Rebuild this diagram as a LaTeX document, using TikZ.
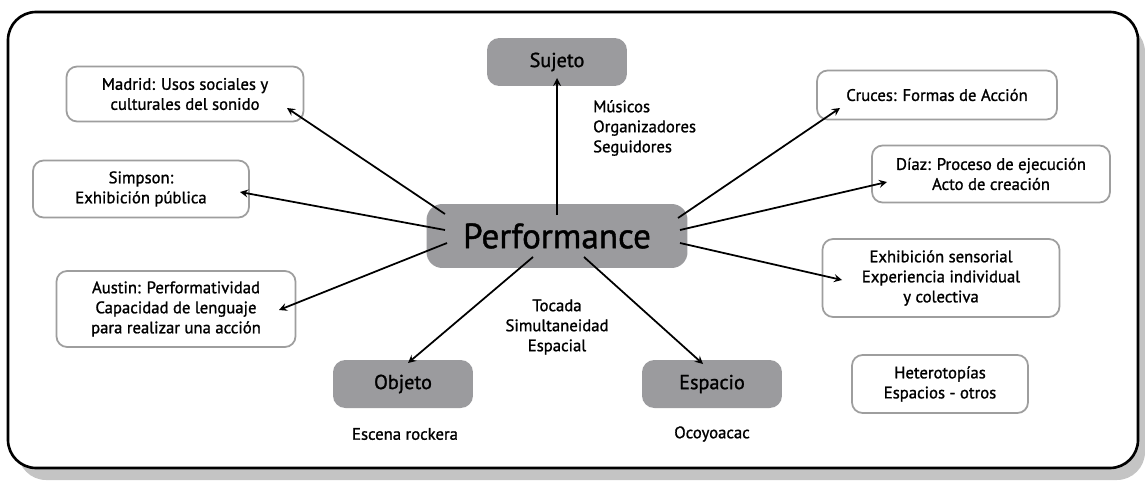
\documentclass[tikz,border=0pt]{standalone}
\usepackage{fontspec}
\setmainfont{PT Sans}[FakeBold=1.2]
\usepackage{tikz}
\usetikzlibrary{arrows,calc}
\definecolor{hubgray}{RGB}{155,155,158}
\definecolor{rimgray}{RGB}{158,158,158}
\definecolor{shadegray}{RGB}{196,196,196}

\begin{document}
\begin{tikzpicture}[x=0.02cm, y=-0.02cm, line join=round,
    hub/.style={fill=hubgray, rounded corners=7pt, minimum width=2.8cm, minimum height=0.96cm,
      font=\fontsize{11.5}{13}\selectfont},
    idea/.style={draw=rimgray, line width=1pt, fill=white, rounded corners=6pt, align=center,
      font=\fontsize{9.5}{11.4}\selectfont},
    note/.style={align=center, font=\fontsize{9.5}{11.4}\selectfont},
    link/.style={-stealth, line width=1pt}]
  \useasboundingbox (0,0) rectangle (1145,480);
  % frame with shadow
  \fill[shadegray, rounded corners=16pt] (18,24) rectangle (1145,480);
  \draw[line width=1.5pt, fill=white, rounded corners=16pt] (8,12) rectangle (1138,468);

  \node[hub, minimum width=5.22cm, minimum height=1.28cm, rounded corners=9pt,
    font=\fontsize{20}{24}\selectfont] (perf) at (557,236) {Performance};
  \node[hub] (sujeto) at (557,62) {Sujeto};
  \node[hub] (objeto) at (403,384) {Objeto};
  \node[hub] (espacio) at (712,384) {Espacio};

  \node[idea, minimum width=4.74cm, minimum height=1.1cm] (madrid) at (185,94) {Madrid: Usos sociales y\\culturales del sonido};
  \node[idea, minimum width=4.32cm, minimum height=1.14cm] (simpson) at (141,189) {Simpson:\\Exhibición pública};
  \node[idea, minimum width=4.78cm, minimum height=1.52cm] (austin) at (176,309) {Austin: Performatividad\\Capacidad de lenguaje\\para realizar una acción};
  \node[idea, minimum width=4.8cm, minimum height=0.98cm] (cruces) at (937,95) {Cruces: Formas de Acción};
  \node[idea, minimum width=4.76cm, minimum height=1.14cm] (diaz) at (991,174) {Díaz: Proceso de ejecución\\Acto de creación};
  \node[idea, minimum width=4.74cm, minimum height=1.56cm] (sensorial) at (941,278) {Exhibición sensorial\\Experiencia individual\\y colectiva};
  \node[idea, minimum width=3.52cm, minimum height=1.16cm] (hetero) at (940,384) {Heterotopías\\Espacios - otros};

  \node[note, align=left, anchor=west] (actores) at (587,128) {Músicos\\Organizadores\\Seguidores};
  \node[note] (tocada) at (557,327) {Tocada\\Simultaneidad\\Espacial};
  \node[note] (escena) at (405,434) {Escena rockera};
  \node[note] (ocoyo) at (712,434) {Ocoyoacac};

  % arrows out of the hub
  \draw[link] ($(perf)+(0,-21)$) -- ($(sujeto)+(0,16)$);
  \draw[link] ($(perf)+(-112,-22)$) -- ($(madrid)+(102,14)$);
  \draw[link] ($(perf)+(-112,-6)$) -- ($(simpson)+(99,3)$);
  \draw[link] ($(perf)+(-110,7)$) -- ($(austin)+(103,1)$);
  \draw[link] ($(perf)+(121,-18)$) -- ($(cruces)+(-97,13)$);
  \draw[link] ($(perf)+(123,-6)$) -- ($(diaz)+(-104,8)$);
  \draw[link] ($(perf)+(123,7)$) -- ($(sensorial)+(-99,2)$);
  \draw[link] ($(perf)+(-24,21)$) -- ($(objeto)+(5,-21)$);
  \draw[link] ($(perf)+(27,21)$) -- ($(espacio)+(-9,-20)$);
\end{tikzpicture}
\end{document}
